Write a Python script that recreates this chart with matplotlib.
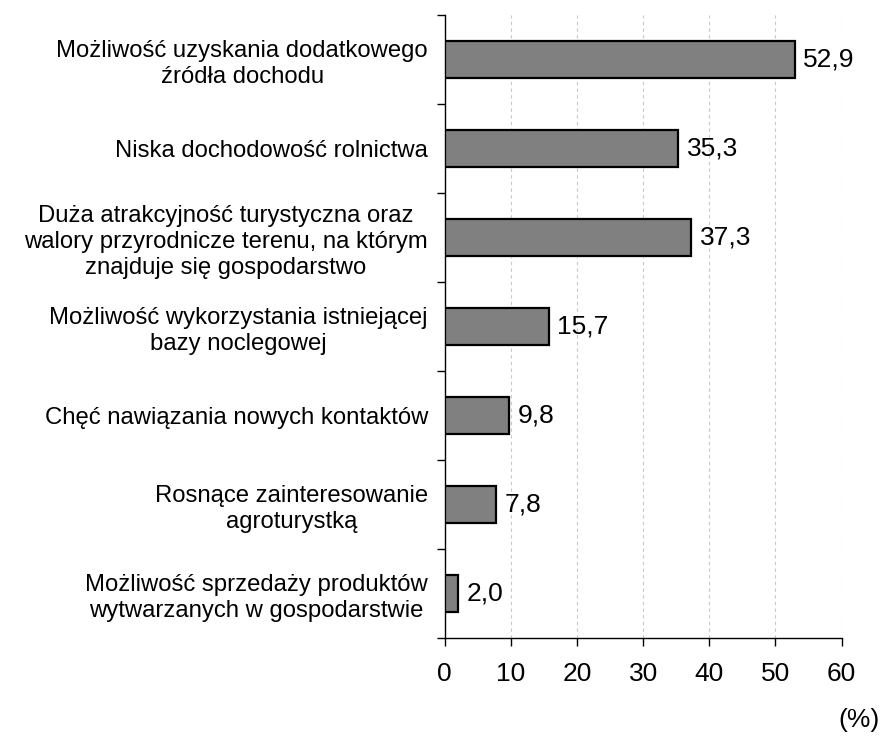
import matplotlib
matplotlib.use("Agg")
import matplotlib.pyplot as plt
import numpy as np

categories = [
    "Możliwość uzyskania dodatkowego\nźródła dochodu",
    "Niska dochodowość rolnictwa",
    "Duża atrakcyjność turystyczna oraz\nwalory przyrodnicze terenu, na którym\nznajduje się gospodarstwo",
    "Możliwość wykorzystania istniejącej\nbazy noclegowej",
    "Chęć nawiązania nowych kontaktów",
    "Rosnące zainteresowanie\nagroturystką",
    "Możliwość sprzedaży produktów\nwytwarzanych w gospodarstwie",
]
values = [52.9, 35.3, 37.3, 15.7, 9.8, 7.8, 2.0]
value_labels = ["52,9", "35,3", "37,3", "15,7", "9,8", "7,8", "2,0"]
xticks = [0, 10, 20, 30, 40, 50, 60]

plt.rcParams['font.family'] = ['Liberation Sans', 'DejaVu Sans']

fig = plt.figure(figsize=(8.84, 7.42), dpi=100)
ax = fig.add_axes([0.503, 0.140, 0.449, 0.840])

n = len(categories)
y = np.arange(n)[::-1]
ax.barh(y, values, height=0.41, color='#808080', edgecolor='black', linewidth=1.6, zorder=3)
for yi, v, lab in zip(y, values, value_labels):
    ax.text(v + 1.3, yi, lab, va='center', ha='left', fontsize=19)

ax.set_xlim(0, 60)
ax.set_ylim(-0.5, n - 0.5)
ax.set_xticks(xticks)
ax.set_xticklabels([str(t) for t in xticks], fontsize=19)
ax.tick_params(axis='x', length=6, width=1, pad=11)

ax.set_yticks(np.arange(-0.5, n, 1.0))
ax.set_yticklabels([])
ax.set_yticks(y, minor=True)
ax.set_yticklabels(categories, minor=True, fontsize=17.2, ha='right',
                   multialignment='center', linespacing=1.25)
ax.tick_params(axis='y', which='major', length=6, width=1)
ax.tick_params(axis='y', which='minor', length=0, pad=12)

for t in xticks[1:]:
    ax.axvline(t, color='#c8c8c8', linestyle=(0, (3, 3)), linewidth=0.8, zorder=1)

for s in ['top', 'right']:
    ax.spines[s].set_visible(False)
for s in ['left', 'bottom']:
    ax.spines[s].set_linewidth(1)

fig.text(0.995, 0.03, "(%)", ha='right', va='center', fontsize=19)

fig.savefig("out.png", dpi=100)
